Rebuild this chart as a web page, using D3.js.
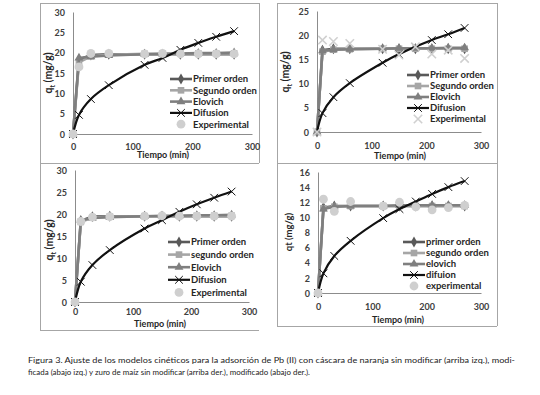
<!DOCTYPE html>
<html>
<head>
<meta charset="utf-8">
<script src="https://cdn.jsdelivr.net/npm/d3@7"></script>
<style>
  body { margin: 0; background: #fff; }
  text { font-family: Lato, "Open Sans", sans-serif; }
</style>
</head>
<body>
<script>
// tiempo de contacto (min)
const tiempo = [0, 10, 30, 60, 120, 150, 180, 210, 240, 270];
const xTicks = [0, 100, 200, 300];

// cascara de naranja sin modificar (arriba izq.)
const naranjaPrimer   = [0, 18.3, 19.4, 19.6, 19.6, 19.6, 19.6, 19.6, 19.6, 19.6];
const naranjaSegundo  = [0, 17.6, 19.1, 19.5, 19.7, 19.7, 19.8, 19.8, 19.8, 19.8];
const naranjaElovich  = [0, 18.7, 19.0, 19.3, 19.6, 19.7, 19.8, 19.9, 19.9, 20.0];
const naranjaDifusion = [0, 4.7, 8.6, 12.0, 17.0, 18.7, 20.7, 22.4, 23.9, 25.3];
const naranjaExp      = [0, 16.5, 19.8, 19.8, 19.7, 19.8, 19.7, 19.7, 19.7, 19.7];

// zuro de maiz sin modificar (arriba der.)
const maizPrimer   = [0, 16.9, 17.2, 17.2, 17.2, 17.2, 17.2, 17.2, 17.2, 17.2];
const maizSegundo  = [0, 16.6, 17.0, 17.1, 17.2, 17.2, 17.2, 17.2, 17.2, 17.2];
const maizElovich  = [0, 16.8, 17.0, 17.1, 17.2, 17.3, 17.3, 17.3, 17.4, 17.4];
const maizDifusion = [0, 3.9, 7.2, 10.1, 14.3, 16.1, 17.6, 19.0, 20.2, 21.5];
const maizExp      = [0, 19.0, 18.7, 18.3, 17.1, 15.9, 17.6, 16.1, 16.9, 15.2];

// cascara de naranja modificada (abajo izq.)
const naranjaModPrimer   = [0, 18.4, 19.4, 19.5, 19.5, 19.5, 19.5, 19.5, 19.5, 19.5];
const naranjaModSegundo  = [0, 18.2, 19.2, 19.4, 19.5, 19.5, 19.6, 19.6, 19.6, 19.6];
const naranjaModElovich  = [0, 18.6, 19.1, 19.3, 19.5, 19.6, 19.6, 19.7, 19.7, 19.8];
const naranjaModDifusion = [0, 4.6, 8.4, 11.8, 16.7, 18.6, 20.5, 22.2, 23.7, 25.1];
const naranjaModExp      = [0, 18.3, 19.3, 19.4, 19.5, 19.6, 19.5, 19.5, 19.5, 19.5];

// zuro de maiz modificado (abajo der.)
const maizModPrimer   = [0, 11.3, 11.5, 11.5, 11.5, 11.5, 11.5, 11.5, 11.5, 11.5];
const maizModSegundo  = [0, 11.2, 11.4, 11.5, 11.5, 11.5, 11.5, 11.5, 11.5, 11.5];
const maizModElovich  = [0, 11.1, 11.4, 11.5, 11.5, 11.6, 11.6, 11.6, 11.6, 11.6];
const maizModDifusion = [0, 2.6, 4.9, 6.9, 9.9, 11.1, 12.1, 13.1, 14.0, 14.8];
const maizModExp      = [0, 12.4, 10.8, 12.1, 11.5, 12.0, 11.4, 11.0, 11.3, 11.6];

const etiquetasMayus = ["Primer orden", "Segundo orden", "Elovich", "Difusion", "Experimental"];
const etiquetasMixta = ["Primer orden", "segundo orden", "Elovich", "Difusion", "Experimental"];
const etiquetasMinus = ["primer orden", "segundo orden", "elovich", "difuion", "experimental"];

const caption1 = "Figura 3. Ajuste de los modelos cinéticos para la adsorción de Pb (II) con cáscara de naranja sin modificar (arriba izq.), modi-";
const caption2 = "ficada (abajo izq.) y zuro de maíz sin modificar (arriba der.), modificado (abajo der.).";

const W = 540, H = 395;
const svg = d3.select("body").append("svg").attr("width", W).attr("height", H);

const timesSym = d3.symbolTimes || d3.symbolX;

// estilo de cada serie
const estilos = [
  { color: "#595959", width: 2.6, sym: d3.symbolDiamond, size: 34, fill: "#595959" },
  { color: "#a6a6a6", width: 2.6, sym: d3.symbolSquare, size: 44, fill: "#a6a6a6" },
  { color: "#7f7f7f", width: 2.6, sym: d3.symbolTriangle, size: 34, fill: "#7f7f7f" },
  { color: "#111111", width: 2.2, sym: timesSym, size: 40, stroke: true, curve: true }
];

// frames of the four panels
const marcos = [
  { x: 40, y: 3, w: 219, h: 160, sides: "tlrb" },
  { x: 277, y: 3, w: 220, h: 160, sides: "tlrb" },
  { x: 40, y: 163, w: 219, h: 167, sides: "lb" },
  { x: 277, y: 163, w: 220, h: 163, sides: "tlrb" }
];
marcos.forEach(m => {
  const g = svg.append("g").attr("stroke", "#a6a6a6").attr("stroke-width", 1);
  if (m.sides.includes("t")) g.append("line").attr("x1", m.x).attr("x2", m.x + m.w).attr("y1", m.y + .5).attr("y2", m.y + .5);
  if (m.sides.includes("b")) g.append("line").attr("x1", m.x).attr("x2", m.x + m.w).attr("y1", m.y + m.h + .5).attr("y2", m.y + m.h + .5);
  if (m.sides.includes("l")) g.append("line").attr("x1", m.x + .5).attr("x2", m.x + .5).attr("y1", m.y).attr("y2", m.y + m.h);
  if (m.sides.includes("r")) g.append("line").attr("x1", m.x + m.w + .5).attr("x2", m.x + m.w + .5).attr("y1", m.y).attr("y2", m.y + m.h);
});

const paneles = [
  { x0: 73, x1: 252, y0: 134, y1: 12, yMax: 30, yStep: 5,
    series: [naranjaPrimer, naranjaSegundo, naranjaElovich, naranjaDifusion], exp: naranjaExp, expSym: "circle",
    labels: etiquetasMayus, legX: 170, legY: 79, legDy: 11.3,
    ytitle: ["q", "t", " (mg/g)"], ytX: 52, ytY: 73, xtY: 158, xtX: 163, xlY: 150 },
  { x0: 317, x1: 481, y0: 132, y1: 11, yMax: 25, yStep: 5,
    series: [maizPrimer, maizSegundo, maizElovich, maizDifusion], exp: maizExp, expSym: "x",
    labels: etiquetasMayus, legX: 407, legY: 75, legDy: 11,
    ytitle: ["q", "t", " (mg/g)"], ytX: 289, ytY: 72, xtY: 159, xtX: 400, xlY: 149 },
  { x0: 75, x1: 249, y0: 302, y1: 170, yMax: 30, yStep: 5,
    series: [naranjaModPrimer, naranjaModSegundo, naranjaModElovich, naranjaModDifusion], exp: naranjaModExp, expSym: "circle",
    labels: etiquetasMixta, legX: 168, legY: 242, legDy: 12.6,
    ytitle: ["q", "t", " (mg/g)"], ytX: 53, ytY: 240, xtY: 327, xtX: 160, xlY: 315 },
  { x0: 318, x1: 481, y0: 293, y1: 172, yMax: 16, yStep: 2,
    series: [maizModPrimer, maizModSegundo, maizModElovich, maizModDifusion], exp: maizModExp, expSym: "circle",
    labels: etiquetasMinus, legX: 403, legY: 242, legDy: 11,
    ytitle: ["qt (mg/g)"], ytX: 292, ytY: 232, xtY: 323, xtX: 398, xlY: 310 }
];

function marcador(g, tipo, st, x, y) {
  if (tipo === "circle") {
    g.append("circle").attr("cx", x).attr("cy", y).attr("r", 4.4).attr("fill", "#cfcfcf");
  } else if (tipo === "x") {
    g.append("path").attr("transform", `translate(${x},${y})`)
      .attr("d", d3.symbol().type(timesSym).size(48)())
      .attr("fill", "none").attr("stroke", "#d0d0d0").attr("stroke-width", 1.6);
  } else {
    const p = g.append("path").attr("transform", `translate(${x},${y})`)
      .attr("d", d3.symbol().type(st.sym).size(st.size)());
    if (st.stroke) p.attr("fill", "none").attr("stroke", st.color).attr("stroke-width", 1);
    else p.attr("fill", st.fill);
  }
}

paneles.forEach(p => {
  const x = d3.scaleLinear().domain([0, 300]).range([p.x0, p.x1]);
  const y = d3.scaleLinear().domain([0, p.yMax]).range([p.y0, p.y1]);
  const g = svg.append("g");

  // ejes
  const yAxis = d3.axisLeft(y).tickValues(d3.range(0, p.yMax + 0.01, p.yStep)).tickSize(0).tickPadding(8);
  const gy = g.append("g").attr("transform", `translate(${p.x0},0)`).call(yAxis);
  const xAxis = d3.axisBottom(x).tickValues(xTicks).tickSize(0).tickPadding(0);
  const gx = g.append("g").attr("transform", `translate(0,${p.y0})`).call(xAxis);
  [gx, gy].forEach(a => {
    a.select(".domain").attr("stroke", "#8c8c8c").attr("stroke-width", 1);
    a.selectAll("text").attr("font-size", 9).attr("font-weight", 700).attr("fill", "#404040")
      .attr("font-family", "Lato, sans-serif");
  });
  gx.selectAll(".tick text").attr("y", p.xlY - p.y0).attr("dy", "0");
  gy.selectAll(".tick text").attr("dy", "0.35em");

  // series de modelos
  p.series.forEach((vals, i) => {
    const st = estilos[i];
    const datos = tiempo.map((t, k) => [t, vals[k]]);
    const line = d3.line().x(d => x(d[0])).y(d => y(d[1]));
    if (st.curve) line.curve(d3.curveCatmullRom.alpha(0.5));
    g.append("path").datum(datos).attr("d", line)
      .attr("fill", "none").attr("stroke", st.color).attr("stroke-width", st.width);
    datos.forEach(d => marcador(g, null, st, x(d[0]), y(d[1])));
  });
  // experimental
  tiempo.forEach((t, k) => marcador(g, p.expSym, null, x(t), y(p.exp[k])));

  // titulo eje x
  g.append("text").attr("x", p.xtX).attr("y", p.xtY).attr("text-anchor", "middle")
    .attr("font-size", 9).attr("font-weight", 700).attr("fill", "#262626").text("Tiempo (min)");

  // titulo eje y
  const yt = g.append("text").attr("transform", `translate(${p.ytX},${p.ytY}) rotate(-90)`)
    .attr("text-anchor", "middle").attr("font-size", 10.5).attr("font-weight", 700).attr("fill", "#262626");
  if (p.ytitle.length === 3) {
    yt.append("tspan").text(p.ytitle[0]);
    yt.append("tspan").attr("font-size", 7).attr("dy", 3).text(p.ytitle[1]);
    yt.append("tspan").attr("dy", -3).text(p.ytitle[2]);
  } else {
    yt.attr("font-size", 9.5).text(p.ytitle[0]);
  }

  // leyenda
  p.labels.forEach((lab, i) => {
    const ly = p.legY + i * p.legDy;
    const lg = g.append("g");
    if (i < 4) {
      const st = estilos[i];
      lg.append("line").attr("x1", p.legX).attr("x2", p.legX + 22).attr("y1", ly).attr("y2", ly)
        .attr("stroke", st.color).attr("stroke-width", st.width);
      marcador(lg, null, st, p.legX + 11, ly);
    } else {
      marcador(lg, p.expSym, null, p.legX + 11, ly);
    }
    lg.append("text").attr("x", p.legX + 23).attr("y", ly).attr("dy", "0.35em")
      .attr("font-size", 9.5).attr("font-weight", 700).attr("fill", "#262626").text(lab);
  });
});

// pie de figura
svg.append("text").attr("x", 28).attr("y", 363).attr("font-size", 8.2).attr("fill", "#222")
  .attr("textLength", 487).attr("lengthAdjust", "spacingAndGlyphs").text(caption1);
svg.append("text").attr("x", 28).attr("y", 375).attr("font-size", 8.2).attr("fill", "#222")
  .attr("textLength", 282).attr("lengthAdjust", "spacingAndGlyphs").text(caption2);
</script>
</body>
</html>
